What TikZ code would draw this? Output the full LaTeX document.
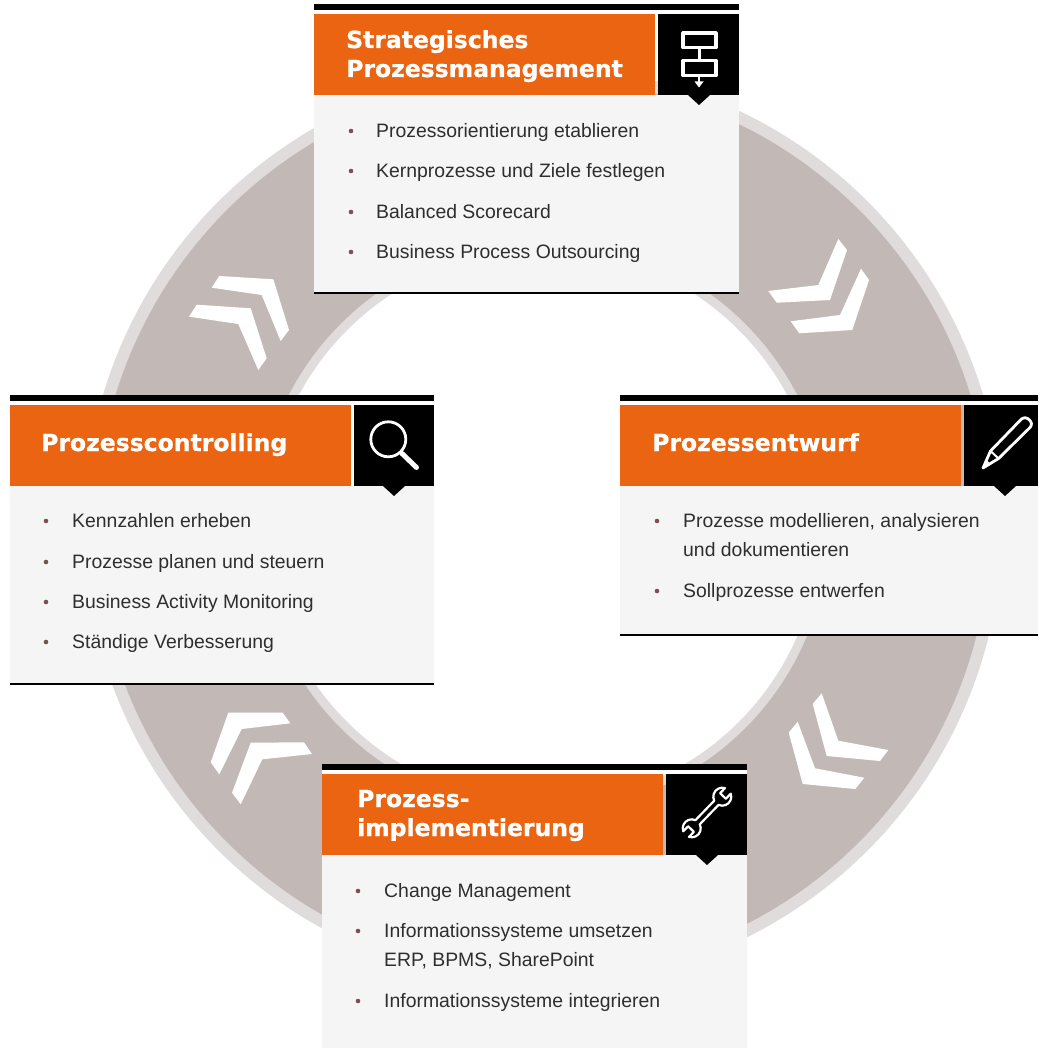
\documentclass[tikz,border=0pt]{standalone}
\usepackage{fontspec}
\setmainfont{Liberation Sans}
\newfontfamily\titlefont[FakeBold=0.7]{DejaVu Sans Bold}
\definecolor{ringdark}{HTML}{C2B9B6}
\definecolor{ringlight}{HTML}{E1DCDC}
\definecolor{orangepanel}{HTML}{EB6412}
\definecolor{cardbg}{HTML}{F5F5F5}
\definecolor{bodytext}{HTML}{2E2E2E}
\definecolor{bulletcol}{HTML}{7A5050}
\newcommand{\cardframe}[5]{%
 % #1 left, #2 right, #3 top of black bar, #4 bottom of body, #5 notch centre x
 \fill[white] (#1,#3) rectangle (#2,#3+10);
 \fill[black] (#1,#3) rectangle (#2,#3+6.3);
 \fill[cardbg] (#1,#3+91) rectangle (#2,#4);
 \fill[orangepanel] (#1,#3+10) rectangle (#1+341,#3+91);
 \fill[black] (#1+343.5,#3+10) rectangle (#2,#3+91);
 \fill[black] (#5-11,#3+91) -- (#5+11,#3+91) -- (#5,#3+101) -- cycle;
}
\tikzset{
 titletext/.style={anchor=base west,inner sep=0pt,text=white,font=\titlefont\fontsize{23.5}{26}\selectfont},
 itemtext/.style={anchor=base west,inner sep=0pt,text=bodytext,font=\fontsize{19.4}{22}\selectfont},
 bulletdot/.style={fill=bulletcol,circle,inner sep=0pt,minimum size=4.6pt},
 icon/.style={draw=white,line width=2.8pt,line join=round,line cap=round},
 chevron/.style={fill=white},
 bottomrule/.style={draw=black,line width=1.5pt}
}
\begin{document}
\begin{tikzpicture}[x=1pt,y=-1pt]
\useasboundingbox (0,0) rectangle (1038,1048);
\clip (0,0) rectangle (1038,1048);
\coordinate (ringc) at (543,526);
% ring
\fill[ringlight,even odd rule] (ringc) circle (459pt) (ringc) circle (277pt);
\fill[ringdark,even odd rule] (ringc) circle (447pt) (ringc) circle (286pt);
% chevrons
\fill[chevron] (838.3,239) -- (847,250) -- (830,300) -- (776.7,302.7) -- (768.3,291) -- (818.3,285) -- cycle;
\fill[chevron] (861,268.7) -- (869,280) -- (852.3,330) -- (799.3,333.3) -- (790.7,321.3) -- (840,315) -- cycle;
\fill[chevron] (219.3,276) -- (273.3,279.3) -- (289,330) -- (280.7,341) -- (261.7,295) -- (211.7,287.7) -- cycle;
\fill[chevron] (196.7,304.7) -- (250.7,308.3) -- (266.7,358.3) -- (258.3,370) -- (238.3,324) -- (189,316.7) -- cycle;
\fill[chevron] (228.3,712.7) -- (282.7,712.7) -- (290.3,723.3) -- (241.7,729) -- (219.3,774.3) -- (210.7,762.3) -- cycle;
\fill[chevron] (250.7,742.7) -- (304,742.3) -- (312,754) -- (262.3,759.3) -- (240.7,804.3) -- (232,792.7) -- cycle;
\fill[chevron] (821.7,693.3) -- (838.3,740.7) -- (888.3,750) -- (880,761) -- (826.7,756) -- (812.7,704) -- cycle;
\fill[chevron] (797.7,721.7) -- (815,768.3) -- (864.3,777.7) -- (855.3,789) -- (802.7,784) -- (788.7,732.7) -- cycle;
% cards
\cardframe{314}{739}{4}{293}{699}
\draw[bottomrule] (314,293) -- (739,293);
\cardframe{10}{434}{395}{684}{394}
\draw[bottomrule] (10,684) -- (434,684);
\cardframe{620}{1038}{395}{635}{1005}
\draw[bottomrule] (620,635) -- (1038,635);
\cardframe{322}{747}{764}{1048}{707}
% titles
\node[titletext] (t1a) at (346,48) {Strategisches};
\node[titletext] (t1b) at (346,77) {Prozessmanagement};
\node[titletext] (t2) at (41,451) {Prozesscontrolling};
\node[titletext] (t3) at (652,451) {Prozessentwurf};
\node[titletext] (t4a) at (357,807) {Prozess-};
\node[titletext] (t4b) at (357,836) {implementierung};
% top items
\node[bulletdot] (b11) at (351,131) {}; \node[itemtext] (i11) at (376,137.5) {Prozessorientierung etablieren};
\node[bulletdot] (b12) at (351,171) {}; \node[itemtext] (i12) at (376,177.5) {Kernprozesse und Ziele festlegen};
\node[bulletdot] (b13) at (351,212) {}; \node[itemtext] (i13) at (376,218.5) {Balanced Scorecard};
\node[bulletdot] (b14) at (351,252) {}; \node[itemtext] (i14) at (376,258.5) {Business Process Outsourcing};
% left items
\node[bulletdot] (b21) at (46,521) {}; \node[itemtext] (i21) at (72,527.5) {Kennzahlen erheben};
\node[bulletdot] (b22) at (46,562) {}; \node[itemtext] (i22) at (72,568.5) {Prozesse planen und steuern};
\node[bulletdot] (b23) at (46,602) {}; \node[itemtext] (i23) at (72,608.5) {Business Activity Monitoring};
\node[bulletdot] (b24) at (46,642) {}; \node[itemtext] (i24) at (72,648.5) {Ständige Verbesserung};
% right items
\node[bulletdot] (b31) at (657,521) {}; \node[itemtext] (i31) at (683,527.5) {Prozesse modellieren, analysieren};
\node[itemtext] (i31b) at (683,556.5) {und dokumentieren};
\node[bulletdot] (b32) at (657,591) {}; \node[itemtext] (i32) at (683,597.5) {Sollprozesse entwerfen};
% bottom items
\node[bulletdot] (b41) at (358,891) {}; \node[itemtext] (i41) at (384,897.5) {Change Management};
\node[bulletdot] (b42) at (358,931) {}; \node[itemtext] (i42) at (384,937.5) {Informationssysteme umsetzen};
\node[itemtext] (i42b) at (384,966.5) {ERP, BPMS, SharePoint};
\node[bulletdot] (b43) at (358,1001) {}; \node[itemtext] (i43) at (384,1007.5) {Informationssysteme integrieren};
% icon: flow
\draw[icon,line cap=butt,line width=3.2pt] (683,33) rectangle (716,47.5);
\draw[icon,line cap=butt,line width=3.2pt] (683,60.5) rectangle (716,75.5);
\draw[icon,line cap=butt,line width=3pt] (699,47.5) -- (699,60.5);
\draw[icon,line cap=butt,line width=2.4pt] (699,75.5) -- (699,84);
\fill[white] (694.5,81.5) -- (703.5,81.5) -- (699,87.5) -- cycle;
% icon: magnifier
\draw[icon] (388.3,439.3) circle (17.5pt);
\draw[icon,line width=5pt] (402,453.5) -- (416.5,467.5);
% icon: pencil
\draw[icon] (1021.5,419) .. controls (1024,417) and (1027,417.5) .. (1029.5,420) .. controls (1032,422.5) and (1032,425) .. (1030,427.5) -- (998.5,458.5) -- (983,468) -- (990.5,451) -- cycle;
\draw[icon,line width=2pt] (990.5,451) -- (998.5,458.5);
\fill[white] (983,468) -- (986.5,460) -- (991,464.5) -- cycle;
% icon: wrench
\begin{scope}[shift={(707,812.5)},rotate=46]
\draw[icon,line width=2.2pt] (-13.5,3) -- (13.5,3) arc (160.5:26.4:9) -- (23,4) -- (23,-4) -- (30.06,-4) arc (-26.4:-160.5:9) -- (-13.5,-3) arc (-19.5:-153.6:9) -- (-23,-4) -- (-23,4) -- (-30.06,4) arc (153.6:19.5:9) -- cycle;
\end{scope}
\end{tikzpicture}
\end{document}
